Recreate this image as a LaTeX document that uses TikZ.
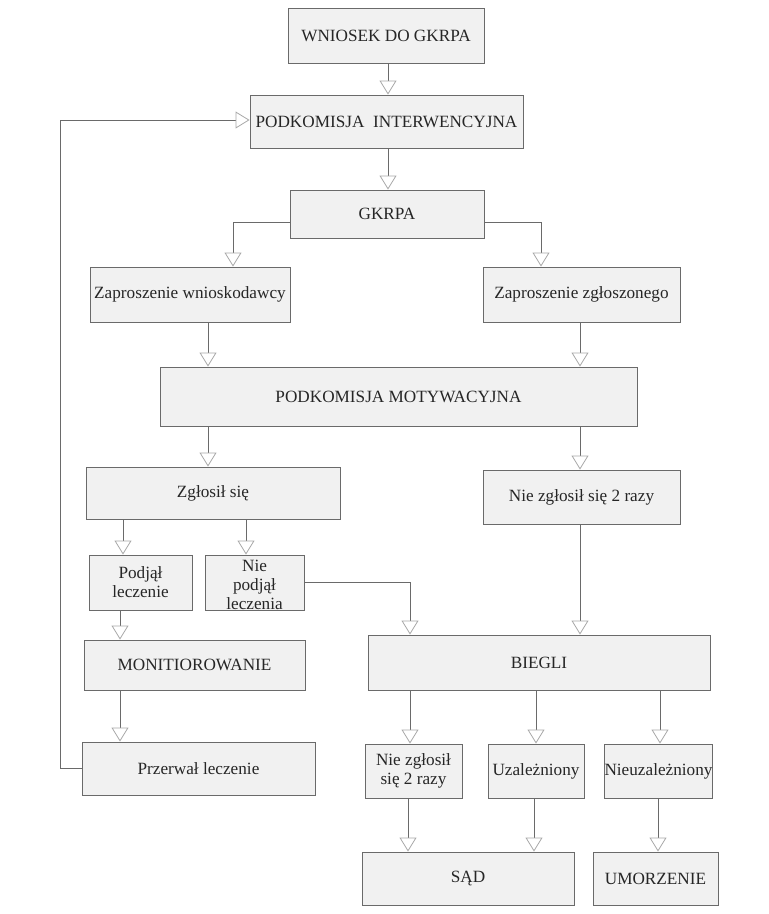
\documentclass[tikz,border=0pt]{standalone}
\usepackage{fontspec}
\setmainfont{Liberation Serif}
\usetikzlibrary{arrows.meta}
\definecolor{boxfill}{HTML}{F1F1F1}
\definecolor{boxline}{HTML}{6A6A6A}
\definecolor{tipcol}{HTML}{A8A8A8}
\tikzset{
  box/.style={draw=boxline, fill=boxfill, line width=0.9pt, inner sep=0pt,
    align=center, text=black!85, font=\fontsize{17.2}{19}\selectfont},
  conn/.style={draw=boxline, line width=0.8pt,
    -{Triangle[open, width=17pt, length=14pt, color=tipcol, line width=0.8pt]}},
  plain/.style={draw=boxline, line width=0.8pt}
}
\begin{document}
\begin{tikzpicture}[x=1pt,y=-1pt]
\useasboundingbox (0,0) rectangle (769,914);
\node[box, minimum width=196pt, minimum height=55pt] (wn) at (386,35.5) {WNIOSEK DO GKRPA};
\node[box, minimum width=273pt, minimum height=53pt] (pi) at (386.5,121.5) {PODKOMISJA\ \ INTERWENCYJNA};
\node[box, minimum width=194pt, minimum height=48pt] (gk) at (387,214) {GKRPA};
\node[box, minimum width=200pt, minimum height=55pt] (zw) at (190,294.5) {Zaproszenie wnioskodawcy};
\node[box, minimum width=197pt, minimum height=55pt] (zz) at (581.5,294.5) {Zaproszenie zgłoszonego};
\node[box, minimum width=477pt, minimum height=59pt] (pm) at (398.5,396.5) {PODKOMISJA MOTYWACYJNA};
\node[box, minimum width=254pt, minimum height=52pt] (zs) at (213,493) {Zgłosił się};
\node[box, minimum width=197pt, minimum height=54pt] (nz) at (581.5,497) {Nie zgłosił się 2 razy};
\node[box, minimum width=103pt, minimum height=55pt] (pl) at (140.5,582.5) {Podjął\\leczenie};
\node[box, minimum width=99pt, minimum height=55pt] (np) at (254.5,582.5) {};
\node[align=center, font=\fontsize{17.2}{19}\selectfont, text=black!85, inner sep=0pt] (npt) at (254.5,585) {Nie\\podjął\\leczenia};
\node[box, minimum width=221pt, minimum height=50pt] (mo) at (194.5,665) {MONITIOROWANIE};
\node[box, minimum width=342pt, minimum height=55pt] (bi) at (539,662.5) {BIEGLI};
\node[box, minimum width=233pt, minimum height=53pt] (pr) at (198.5,768.5) {Przerwał leczenie};
\node[box, minimum width=97pt, minimum height=54pt] (nz2) at (413.5,771) {Nie zgłosił\\się 2 razy};
\node[box, minimum width=96pt, minimum height=54pt] (uz) at (536,771) {Uzależniony};
\node[box, minimum width=103pt, minimum height=54pt] (nu) at (658.5,771) {Nieuzależniony};
\node[box, minimum width=212pt, minimum height=53pt] (sad) at (468,878.5) {SĄD};
\node[box, minimum width=125pt, minimum height=53pt] (um) at (655.5,878.5) {UMORZENIE};
\coordinate (fbl) at (60,768.5);
\coordinate (fbt) at (60,120);
% connectors
\draw[conn] (wn.south -| 388,0) -- (pi.north -| 388,0);
\draw[conn] (pi.south -| 388,0) -- (gk.north -| 388,0);
\draw[conn] (gk.west |- 0,222) -| (zw.north -| 233,0);
\draw[conn] (gk.east |- 0,222) -| (zz.north -| 541,0);
\draw[conn] (zw.south -| 208,0) -- (pm.north -| 208,0);
\draw[conn] (zz.south -| 580,0) -- (pm.north -| 580,0);
\draw[conn] (pm.south -| 208,0) -- (zs.north -| 208,0);
\draw[conn] (pm.south -| 580,0) -- (nz.north -| 580,0);
\draw[conn] (zs.south -| 123,0) -- (pl.north -| 123,0);
\draw[conn] (zs.south -| 246,0) -- (np.north -| 246,0);
\draw[conn] (np.east |- 0,582) -| (bi.north -| 410,0);
\draw[conn] (nz.south -| 580,0) -- (bi.north -| 580,0);
\draw[conn] (pl.south -| 120,0) -- (mo.north -| 120,0);
\draw[conn] (mo.south -| 120,0) -- (pr.north -| 120,0);
\draw[conn] (bi.south -| 410,0) -- (nz2.north -| 410,0);
\draw[conn] (bi.south -| 536,0) -- (uz.north -| 536,0);
\draw[conn] (bi.south -| 660,0) -- (nu.north -| 660,0);
\draw[conn] (nz2.south -| 408,0) -- (sad.north -| 408,0);
\draw[conn] (uz.south -| 534,0) -- (sad.north -| 534,0);
\draw[conn] (nu.south -| 658,0) -- (um.north -| 658,0);
\draw[conn] (pr.west) -- (fbl) -- (fbt) -- (pi.west |- fbt);
\end{tikzpicture}
\end{document}
